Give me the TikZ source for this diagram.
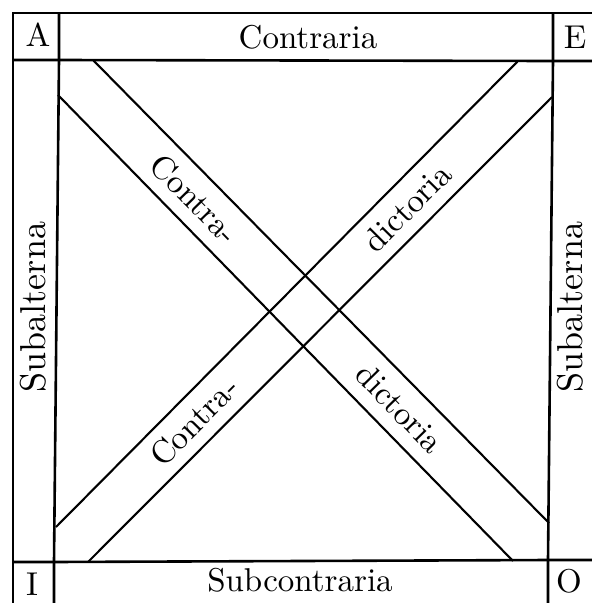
\documentclass[tikz,border=0pt]{standalone}
\usepackage{fontspec}
\setmainfont{lmroman10-regular}[Extension=.otf]
\usetikzlibrary{calc}
\tikzset{
  frameline/.style={line width=2.6pt},
  bandline/.style={line width=2.1pt},
  lbl/.style={font=\fontsize{33}{36}\selectfont, inner sep=0pt},
  sidelbl/.style={lbl, font=\fontsize{36}{40}\selectfont, rotate=90},
}
\begin{document}
\begin{tikzpicture}[x=1pt,y=-1pt]
  \useasboundingbox (0,0) rectangle (592,603);
  \clip (0,0) rectangle (592,603);
  % outer frame and the four strips
  \draw[frameline] (13,13) rectangle (599,610);
  \coordinate (tl) at (59,60);  \coordinate (tr) at (553,61);
  \coordinate (bl) at (54,562); \coordinate (br) at (548,560);
  \draw[frameline] (13,60) -- (tl) -- (tr) -- (599,61);
  \draw[frameline] (13,562) -- (bl) -- (br) -- (599,560);
  \draw[frameline] (59,13) -- (tl) -- (bl) -- (54,610);
  \draw[frameline] (553,13) -- (tr) -- (br) -- (548,610);
  % band A--O
  \coordinate (ao1) at (93,60);  \coordinate (ao2) at (549,523);
  \coordinate (ao3) at (58,95);  \coordinate (ao4) at (513,561);
  \draw[bandline] (ao1) -- (ao2);
  \draw[bandline] (ao3) -- (ao4);
  % band E--I
  \coordinate (ei1) at (518,61); \coordinate (ei2) at (56,527);
  \coordinate (ei3) at (552,97); \coordinate (ei4) at (88,562);
  \draw[bandline] (ei1) -- (ei2);
  \draw[bandline] (ei3) -- (ei4);
  % corner letters and names
  \node[lbl] (a) at (38,35) {A};
  \node[lbl] (e) at (575,37) {E};
  \node[lbl] (i) at (32,584) {I};
  \node[lbl] (o) at (569,581) {O};
  \node[lbl] (contr) at (308,37) {Contraria};
  \node[lbl] (subcontr) at (300,580) {Subcontraria};
  \node[sidelbl] (subl) at (33,307) {Subalterna};
  \node[sidelbl] (subr) at (570,307) {Subalterna};
  % diagonal words
  \coordinate (aom1) at ($(ao1)!0.5!(ao3)$); \coordinate (aom2) at ($(ao2)!0.5!(ao4)$);
  \coordinate (eim1) at ($(ei1)!0.5!(ei3)$); \coordinate (eim2) at ($(ei2)!0.5!(ei4)$);
  \node[lbl, rotate=-45.6] (ao-contra) at ($(aom1)!0.262!(aom2)$) {Contra-};
  \node[lbl, rotate=-45.6] (ao-dict) at ($(aom1)!0.712!(aom2)$) {dictoria};
  \node[lbl, rotate=45.3] (ei-dict) at ($(eim1)!0.276!(eim2)$) {dictoria};
  \node[lbl, rotate=45.3] (ei-contra) at ($(eim1)!0.736!(eim2)$) {Contra-};
\end{tikzpicture}
\end{document}
